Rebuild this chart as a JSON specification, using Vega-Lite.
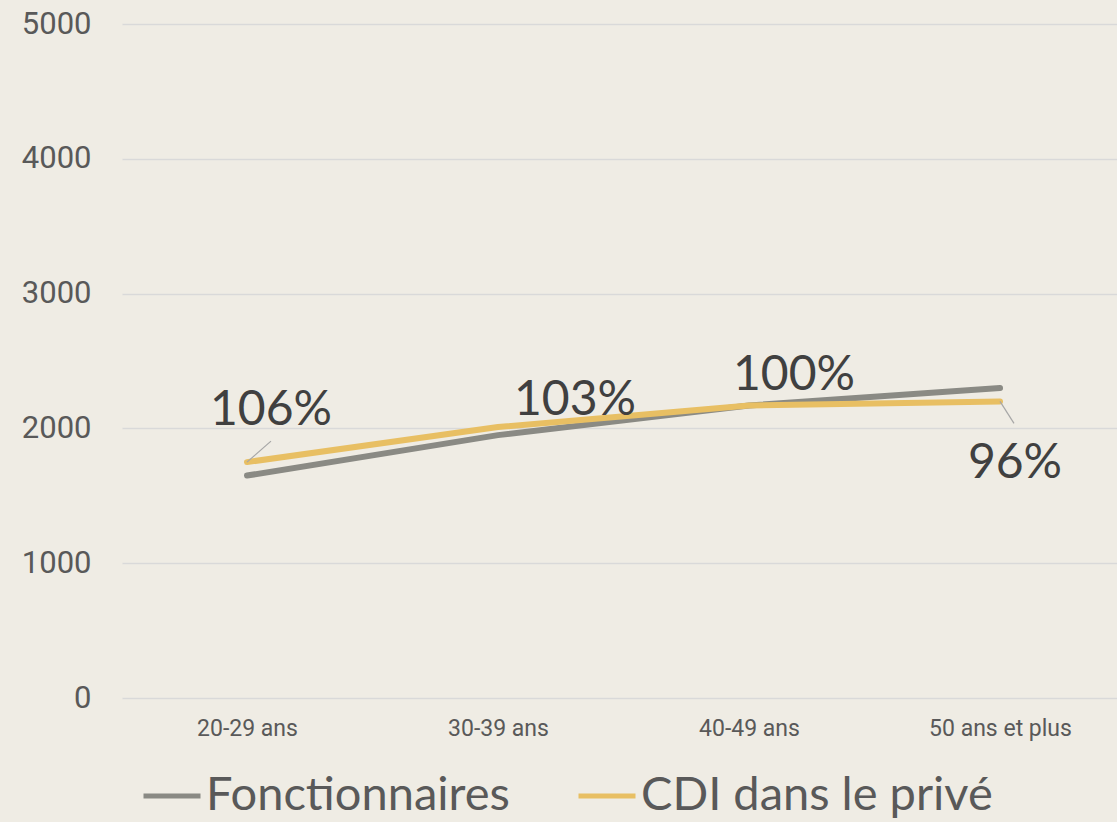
{
  "$schema": "https://vega.github.io/schema/vega-lite/v6.json",
  "autosize": {"type": "none"},
  "width": 995,
  "height": 674,
  "padding": {"left": 122, "top": 24, "right": 0, "bottom": 124},
  "background": "#EFECE4",
  "config": {
    "view": {"stroke": null},
    "axis": {"labelFont": "Roboto", "labelColor": "#595959", "domain": false, "ticks": false, "title": null}
  },
  "data": {
    "values": [
      {"age": "20-29 ans", "serie": "Fonctionnaires", "salaire": 1650, "label": ""},
      {"age": "30-39 ans", "serie": "Fonctionnaires", "salaire": 1950, "label": ""},
      {"age": "40-49 ans", "serie": "Fonctionnaires", "salaire": 2170, "label": ""},
      {"age": "50 ans et plus", "serie": "Fonctionnaires", "salaire": 2300, "label": ""},
      {"age": "20-29 ans", "serie": "CDI dans le privé", "salaire": 1750, "label": "106%"},
      {"age": "30-39 ans", "serie": "CDI dans le privé", "salaire": 2010, "label": "103%"},
      {"age": "40-49 ans", "serie": "CDI dans le privé", "salaire": 2170, "label": "100%"},
      {"age": "50 ans et plus", "serie": "CDI dans le privé", "salaire": 2200, "label": "96%"}
    ]
  },
  "encoding": {
    "x": {
      "field": "age", "type": "nominal", "sort": null,
      "scale": {"type": "point", "padding": 0.482, "align": 0.5165},
      "axis": {"labelAngle": 0, "labelFontSize": 23, "labelPadding": 19, "grid": false}
    },
    "y": {
      "field": "salaire", "type": "quantitative",
      "scale": {"domain": [0, 5000]},
      "axis": {"values": [0, 1000, 2000, 3000, 4000, 5000], "format": "d", "labelFontSize": 31, "labelPadding": 31, "gridColor": "#D9D9D9", "gridWidth": 1.5}
    }
  },
  "layer": [
    {
      "mark": {"type": "line", "strokeWidth": 6, "strokeCap": "round", "strokeJoin": "round"},
      "encoding": {
        "color": {
          "field": "serie", "type": "nominal",
          "scale": {"domain": ["Fonctionnaires", "CDI dans le privé"], "range": ["#8A8A84", "#E8BF63"]},
          "legend": {
            "orient": "none", "legendX": 19, "legendY": 741, "direction": "horizontal", "title": null,
            "symbolType": "stroke", "symbolSize": 3249, "symbolStrokeWidth": 5,
            "labelFont": "Lato", "labelFontSize": 47, "labelColor": "#595959", "labelOffset": 3,
            "columnPadding": 58, "padding": 0, "labelLimit": 600
          }
        }
      }
    },
    {
      "transform": [{"filter": "datum.label == '106%'"}],
      "mark": {"type": "point", "shape": "M0,0L1,-0.875", "size": 2304, "filled": false, "stroke": "#A6A6A6", "strokeWidth": 1.2, "opacity": 1}
    },
    {
      "transform": [{"filter": "datum.label == '96%'"}],
      "mark": {"type": "point", "shape": "M0,0L0.636,1", "size": 1936, "filled": false, "stroke": "#A6A6A6", "strokeWidth": 1.2, "opacity": 1}
    },
    {
      "transform": [{"filter": "datum.label == '106%'"}],
      "mark": {"type": "text", "font": "Lato", "fontSize": 48, "color": "#404040", "align": "center", "baseline": "alphabetic", "dx": 24, "dy": -37},
      "encoding": {"text": {"field": "label"}}
    },
    {
      "transform": [{"filter": "datum.label == '103%'"}],
      "mark": {"type": "text", "font": "Lato", "fontSize": 48, "color": "#404040", "align": "center", "baseline": "alphabetic", "dx": 77, "dy": -12},
      "encoding": {"text": {"field": "label"}}
    },
    {
      "transform": [{"filter": "datum.label == '100%'"}],
      "mark": {"type": "text", "font": "Lato", "fontSize": 48, "color": "#404040", "align": "center", "baseline": "alphabetic", "dx": 45, "dy": -15},
      "encoding": {"text": {"field": "label"}}
    },
    {
      "transform": [{"filter": "datum.label == '96%'"}],
      "mark": {"type": "text", "font": "Lato", "fontSize": 48, "color": "#404040", "align": "center", "baseline": "alphabetic", "dx": 15, "dy": 77},
      "encoding": {"text": {"field": "label"}}
    }
  ]
}
